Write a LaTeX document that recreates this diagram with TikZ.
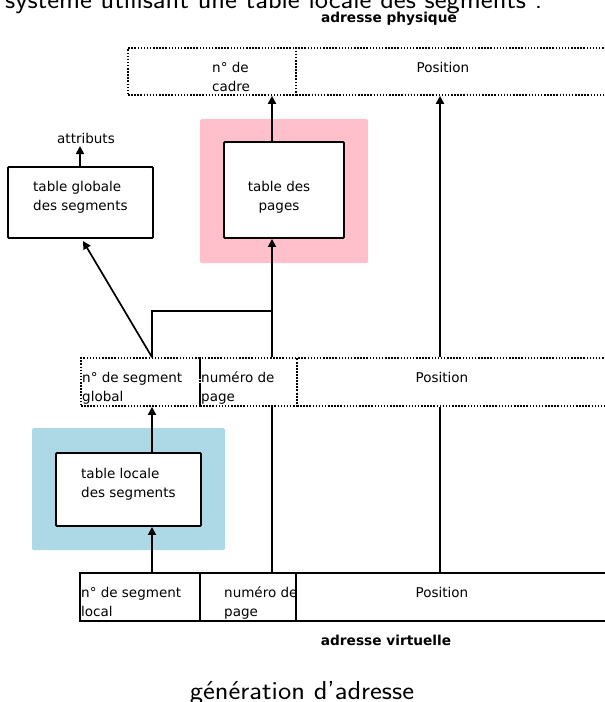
\documentclass[tikz,border=0pt]{standalone}
\usepackage{fontspec}
\newfontfamily\dv{DejaVu Sans}
\usetikzlibrary{arrows.meta}
\definecolor{pinkbg}{RGB}{255,192,203}
\definecolor{bluebg}{RGB}{173,216,230}
\newcommand\twol[2]{\vtop{\hbox{#1}\hbox{#2}}}
\newcommand\twoc[2]{\vtop{\halign{\hfil##\hfil\cr#1\cr#2\cr}}}
\newcommand\widen[1]{\scalebox{1.085}[1]{#1}}
\tikzset{
  txt/.style={inner sep=0pt, font=\dv\fontsize{13.5}{19}\selectfont},
  btxt/.style={inner sep=0pt, font=\dv\bfseries\fontsize{13.7}{16}\selectfont},
  big/.style={inner sep=0pt, font=\sffamily\fontsize{26}{30}\selectfont},
  regdot/.style={draw, line width=1.6pt, dash pattern=on 1.5pt off 1.6pt, inner sep=0pt},
  regsolid/.style={draw, line width=1.8pt, inner sep=0pt},
  tbl/.style={draw, line width=1.9pt, rounded corners=1pt, fill=white, inner sep=0pt},
  bgbox/.style={inner sep=0pt, rounded corners=1.5pt},
  conn/.style={line width=1.7pt},
  arr/.style={conn, -{Triangle[length=8pt,width=8pt]}}
}
\begin{document}
\begin{tikzpicture}[x=1pt,y=-1pt]
\useasboundingbox (0,0) rectangle (605,702);
% titles
\node[big, anchor=base west] (title) at (5,8) {\widen{système utilisant une table locale des segments :}};
\node[btxt, anchor=base] (phys) at (389,22.5) {adresse physique};
\node[btxt, anchor=base] (virt) at (386,645) {adresse virtuelle};
\node[big, anchor=base] (caption) at (302,699) {\widen{génération d’adresse}};
% background areas
\node[bgbox, fill=pinkbg, minimum width=168pt, minimum height=144pt] (pinkarea) at (284,191) {};
\node[bgbox, fill=bluebg, minimum width=193pt, minimum height=122pt] (bluearea) at (128.5,489) {};
% physical address
\node[regdot, minimum width=168pt, minimum height=47pt] (tcadre) at (212,71.5) {};
\node[regdot, minimum width=324pt, minimum height=47pt] (tpos) at (458,71.5) {};
\node[txt, anchor=base west] (tcadret) at (212,72) {\twol{n° de}{cadre}};
\node[txt, anchor=base] (tpost) at (443,72) {Position};
% tables
\node[tbl, minimum width=145pt, minimum height=71pt] (gbox) at (80.5,202.5) {};
\node[txt, anchor=base west] (gboxt) at (33,191) {\twol{table globale}{des segments}};
\node[txt, anchor=base] (attr) at (86,143) {attributs};
\node[tbl, minimum width=120pt, minimum height=96pt] (pbox) at (284,190) {};
\node[txt, anchor=base] (pboxt) at (279,191) {\twoc{table des}{pages}};
\node[tbl, minimum width=145pt, minimum height=73pt] (lbox) at (128.5,489.5) {};
\node[txt, anchor=base west] (lboxt) at (81,478) {\twol{table locale}{des segments}};
% middle address
\node[regdot, minimum width=119pt, minimum height=48pt] (mseg) at (140.5,382) {};
\node[regdot, minimum width=97pt, minimum height=48pt] (mpage) at (248.5,382) {};
\node[regdot, minimum width=323pt, minimum height=48pt] (mpos) at (458.5,382) {};
\node[txt, anchor=base west] (msegt) at (82,382) {\twol{n° de segment}{global}};
\node[txt, anchor=base west] (mpaget) at (201,382) {\twol{numéro de}{page}};
\node[txt, anchor=base] (mpost) at (442,382) {Position};
% virtual address
\node[regsolid, minimum width=120pt, minimum height=48pt] (bseg) at (140,597) {};
\node[regsolid, minimum width=96pt, minimum height=48pt] (bpage) at (248,597) {};
\node[regsolid, minimum width=324pt, minimum height=48pt] (bpos) at (458,597) {};
\node[txt, anchor=base west] (bsegt) at (81,597) {\twol{n° de segment}{local}};
\node[txt, anchor=base west] (bpaget) at (224,597) {\twol{numéro de}{page}};
\node[txt, anchor=base] (bpost) at (442,597) {Position};
% reference coordinates
\coordinate (xa) at (152,0);
\coordinate (xb) at (272,0);
\coordinate (xc) at (440,0);
\coordinate (xd) at (80,0);
\coordinate (ya) at (0,311);
\coordinate (gtip) at (83,241);
\coordinate (attrtip) at (80,146);
% connectors
\draw[arr] (xa |- bseg.north) -- (xa |- lbox.south);
\draw[arr] (xa |- lbox.north) -- (xa |- mseg.south);
\draw[arr] (xa |- mseg.north) -- (gtip);
\draw[conn] (xa |- mseg.north) -- (xa |- ya) -- (xb |- ya);
\draw[conn] (xb |- bpage.north) -- (xb |- mpage.south);
\draw[arr] (xb |- mpage.north) -- (xb |- pbox.south);
\draw[arr] (xb |- pbox.north) -- (xb |- tcadre.south);
\draw[conn] (xc |- bpos.north) -- (xc |- mpos.south);
\draw[arr] (xc |- mpos.north) -- (xc |- tpos.south);
\draw[arr] (xd |- gbox.north) -- (attrtip);
\end{tikzpicture}
\end{document}
